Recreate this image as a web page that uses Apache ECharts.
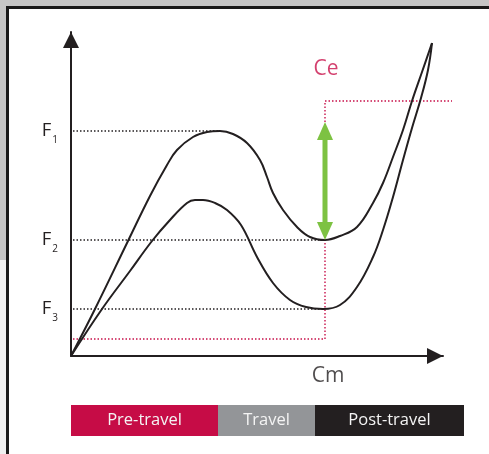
<!DOCTYPE html>
<html>
<head>
<meta charset="utf-8">
<script src="https://cdn.jsdelivr.net/npm/echarts@6/dist/echarts.min.js"></script>
<style>
  html, body { margin: 0; padding: 0; }
  body { width: 489px; height: 454px; position: relative; overflow: hidden; background: #f0f0f0; }
  .top { position: absolute; left: 0; top: 0; width: 489px; height: 260px; background: #c6c6c6; }
  .frame { position: absolute; left: 6px; top: 6px; width: 500px; height: 470px; background: #fff;
           border-left: 3px solid #1a1a1a; border-top: 3px solid #1a1a1a; }
  #main { position: absolute; left: 0; top: 0; width: 489px; height: 454px; }
</style>
</head>
<body>
<div class="top"></div>
<div class="frame"></div>
<div id="main"></div>
<script>
// force / stroke curves (x: stroke, y: force, arbitrary units)
const upperCurve = [[0,0],[24,47],[57,115],[79,160],[96,191],[106,206],[122,219],[136,224],[149,225],[162,222],[176,213],[189,196],[196,179],[202,163],[212,146],[226,129],[239,119],[254,116],[269,120],[286,129],[302,153],[312,173],[322,199],[332,226],[341,255],[351,284],[361,313]];
const lowerCurve = [[0,0],[31,47],[59,85],[81,115],[99,136],[116,153],[124,156],[132,156],[144,153],[156,146],[170,131],[186,99],[202,73],[219,56],[235,49],[252,47],[269,51],[286,69],[302,99],[312,126],[322,159],[332,196],[341,228],[350,258],[357,286],[361,313]];

// force levels F1, F2, F3 and where their guide lines end
const fLevels = [225, 116, 47];
const fSubs = ['1', '2', '3'];
const fEnds = [149, 254, 252];

// Ce: pink guide (pre-travel level, contact point)
const cePath = [[2,17],[254,17],[254,255],[381,255]];
const ceArrow = [[254,125],[254,225]];

// text notes
const notes = [['Ce', 255, 287], ['Cm', 257, -20]];

// phases bar
const phases = ['Pre-travel', 'Travel', 'Post-travel'];
const phaseLen = [147, 97, 149];
const phaseColors = ['#c60c46', '#939598', '#231f20'];

const ink = '#231f20';
const pink = '#c8104a';
const font = 'Open Sans';

let myChart = echarts.init(document.getElementById('main'), null, { renderer: 'canvas' });

let series = [];

// dotted guides for F levels
fLevels.forEach(function (v, i) {
  series.push({
    type: 'line', silent: true, symbol: 'none', z: 2,
    data: [[2, v], [fEnds[i], v]],
    lineStyle: { color: ink, width: 1.5, type: [1.5, 2] }
  });
});

// pink guide lives on a wider twin grid so it can run past the axis arrow
series.push({
  type: 'line', silent: true, symbol: 'none', z: 2,
  xAxisIndex: 2, yAxisIndex: 2,
  data: cePath,
  lineStyle: { color: pink, width: 1.4, type: [1.5, 2] }
});

series.push({
  type: 'line', silent: true, symbol: 'none', smooth: 0.4, z: 3,
  data: upperCurve,
  lineStyle: { color: ink, width: 2 }
});
series.push({
  type: 'line', silent: true, symbol: 'none', smooth: 0.4, z: 3,
  data: lowerCurve,
  lineStyle: { color: ink, width: 2 }
});

// green double arrow
series.push({
  type: 'line', silent: true, z: 4,
  symbol: 'triangle', symbolSize: [16, 18],
  data: [
    { value: ceArrow[0], symbolRotate: 180 },
    { value: ceArrow[1], symbolRotate: 0 }
  ],
  lineStyle: { color: '#7dc242', width: 5 },
  itemStyle: { color: '#7dc242' }
});

series.push({
  type: 'scatter', silent: true, clip: false, symbolSize: 1, z: 5,
  itemStyle: { color: 'rgba(0,0,0,0)' },
  data: notes.map(function (n) {
    return {
      name: n[0], value: [n[1], n[2]],
      label: { color: n[0] === 'Ce' ? pink : ink }
    };
  }),
  label: { show: true, position: 'inside', formatter: '{b}', fontSize: 21, fontFamily: font }
});

phases.forEach(function (p, i) {
  series.push({
    type: 'bar', name: p, stack: 'phase', silent: true,
    xAxisIndex: 1, yAxisIndex: 1, barWidth: 31,
    data: [phaseLen[i]],
    itemStyle: { color: phaseColors[i] },
    label: { show: true, position: 'inside', formatter: '{a}', color: '#f4f4f4', fontSize: 16.5, fontFamily: font }
  });
});

let axisLine = {
  show: true,
  symbol: ['none', 'triangle'],
  symbolSize: [16, 16],
  symbolOffset: [0, -8],
  lineStyle: { color: ink, width: 2 }
};

let option = {
  animation: false,
  grid: [
    { left: 71, right: 46, top: 32, bottom: 98 },
    { left: 71, right: 25, top: 405, height: 31 },
    { left: 71, right: 37, top: 32, bottom: 98 }
  ],
  xAxis: [
    {
      type: 'value', min: 0, max: 372,
      axisLine: axisLine,
      axisTick: { show: false }, axisLabel: { show: false }, splitLine: { show: false }
    },
    { type: 'value', gridIndex: 1, min: 0, max: 393, show: false },
    { type: 'value', gridIndex: 2, min: 0, max: 381, show: false }
  ],
  yAxis: [
    {
      type: 'value', min: 0, max: 324,
      axisLine: axisLine,
      axisTick: { show: false }, splitLine: { show: false },
      axisLabel: {
        show: true,
        customValues: fLevels,
        margin: 13,
        formatter: function (v) {
          let i = fLevels.indexOf(v);
          return i < 0 ? '' : '{f|F}{s|' + fSubs[i] + '}';
        },
        rich: {
          f: { fontSize: 18.5, color: ink, fontFamily: font },
          s: { fontSize: 10, color: ink, fontFamily: font, padding: [18, 0, 0, 1] }
        }
      }
    },
    { type: 'category', gridIndex: 1, data: ['phase'], show: false },
    { type: 'value', gridIndex: 2, min: 0, max: 324, show: false }
  ],
  series: series
};

myChart.setOption(option);
</script>
</body>
</html>
